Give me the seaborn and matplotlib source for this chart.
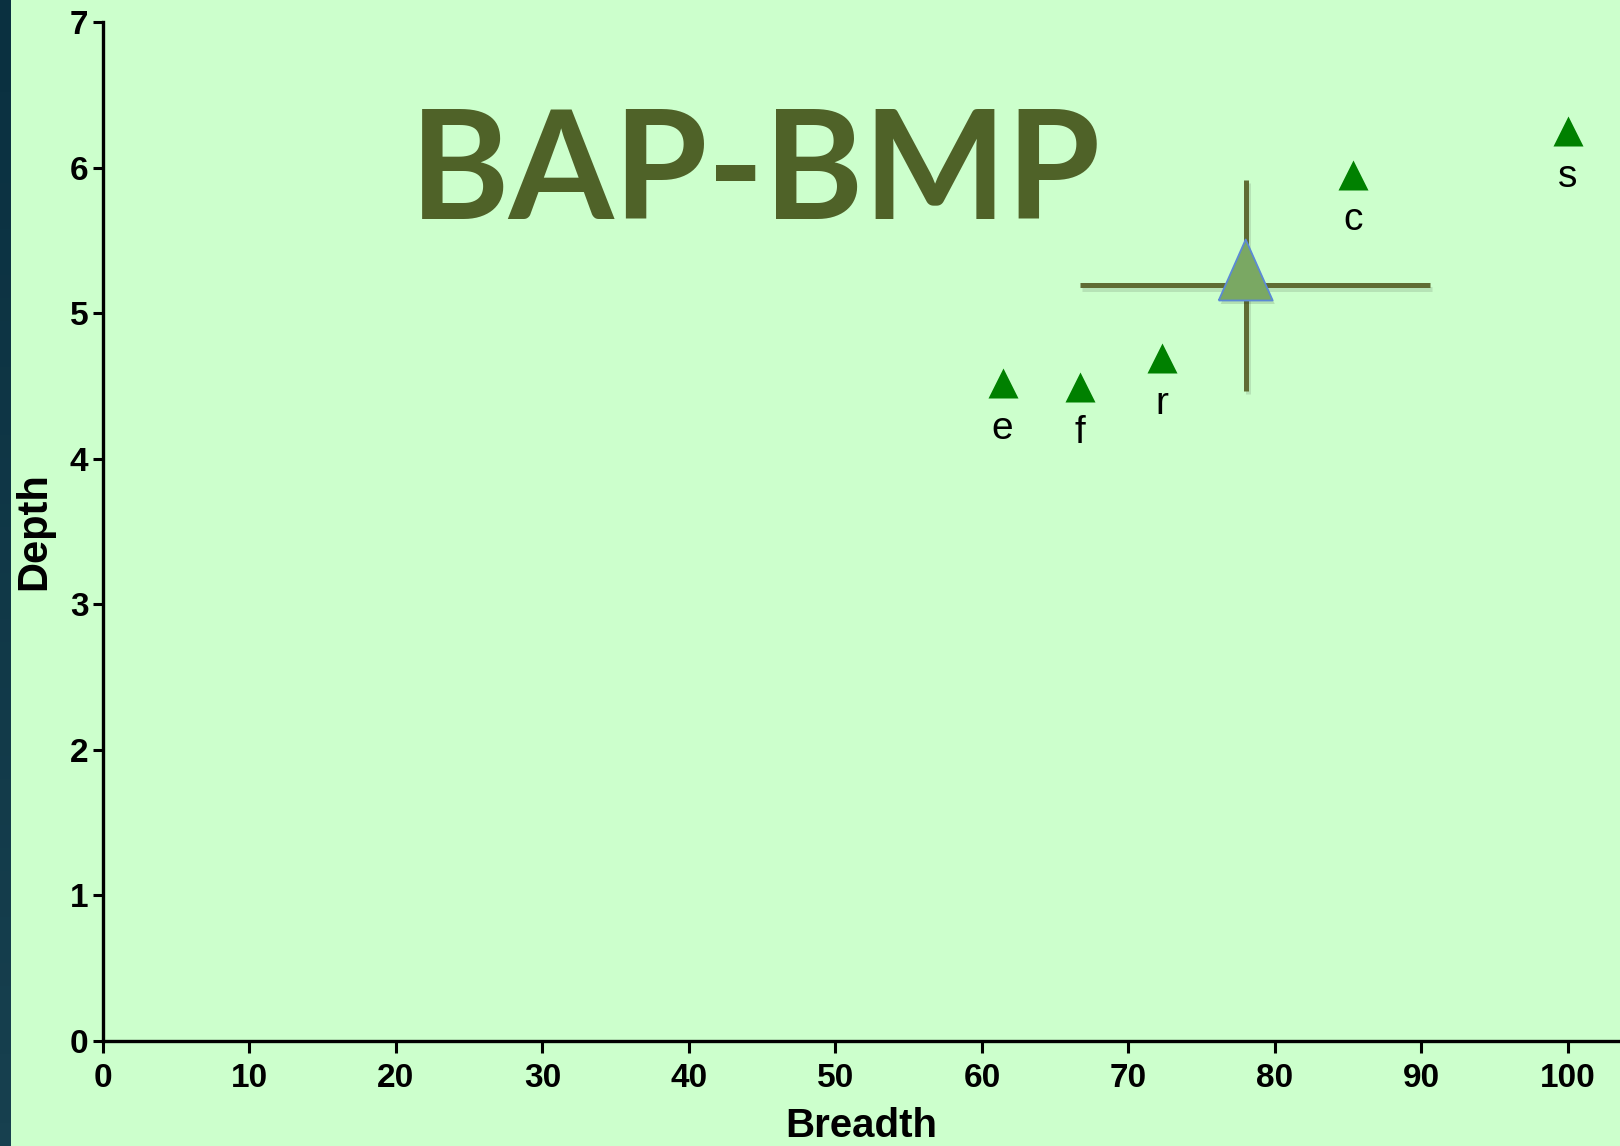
import matplotlib
matplotlib.use("Agg")
import numpy as np
import pandas as pd
import seaborn as sns
from matplotlib import pyplot as plt
from matplotlib import patheffects

# values
site_names = ["e", "f", "r", "c", "s"]
breadth = [61.4, 66.7, 72.3, 85.3, 100.0]
depth = [4.52, 4.49, 4.69, 5.95, 6.25]

mean_breadth = 78.0
mean_depth = 5.19
breadth_err = [[11.3], [12.6]]   # left, right arm
depth_err = 0.725

x_ticks = list(range(0, 101, 10))
y_ticks = list(range(0, 8))

bg = "#ccffcc"
sns.set_theme(style="ticks", rc={"axes.facecolor": bg, "figure.facecolor": bg,
                                 "text.color": "black", "axes.labelcolor": "black",
                                 "xtick.color": "black", "ytick.color": "black"})
plt.rcParams["font.family"] = ["Liberation Sans", "DejaVu Sans"]

fig = plt.figure(figsize=(16.2, 11.46), dpi=100)
ax = fig.add_axes([103 / 1620, 105 / 1146, 1517 / 1620, 1019 / 1146])

# dark strip on the left edge
strip = fig.add_axes([0, 0, 11 / 1620, 1])
strip.imshow(np.linspace(0, 1, 50).reshape(-1, 1), aspect="auto",
             cmap=matplotlib.colors.LinearSegmentedColormap.from_list("s", ["#0a3040", "#17404f"]))
strip.set_axis_off()

df = pd.DataFrame({"Breadth": breadth, "Depth": depth, "site": site_names})
sns.scatterplot(data=df, x="Breadth", y="Depth", marker="^", s=21.6 ** 2,
                color="#008000", linewidth=0, ax=ax, zorder=3)
for name, bx, dy in zip(site_names, breadth, depth):
    ax.annotate(name, (bx, dy), xytext=(0, -40), textcoords="offset points",
                ha="center", va="baseline", fontsize=28, color="black")

# mean with spread
shadow = [patheffects.SimpleLineShadow(offset=(1.5, -2.5), alpha=0.12), patheffects.Normal()]
eb = ax.errorbar([mean_breadth], [mean_depth], xerr=breadth_err, yerr=depth_err,
                 fmt="none", ecolor="#5f6c33", elinewidth=3.6, capsize=0, zorder=4)
for line in eb[2]:
    line.set_path_effects(shadow)

tri = [(-27, -15), (27, -15), (0, 46), (-27, -15)]
ax.plot([mean_breadth], [mean_depth], marker=tri, markersize=92 * 0.72,
        markerfacecolor="#7aa863", markeredgecolor="#5b8ad6", markeredgewidth=1.3,
        linestyle="none", zorder=5,
        path_effects=[patheffects.SimplePatchShadow(offset=(1.5, -2.5), alpha=0.15), patheffects.Normal()])

ax.text(0.4298, 0.8067, "BAP-BMP", transform=ax.transAxes, ha="center", va="baseline",
        fontsize=109, fontweight="bold", color="#4f6228", family=["Lato", "DejaVu Sans"])

ax.set_xlim(0, 103.55)
ax.set_ylim(0, 7)
ax.set_xticks(x_ticks)
ax.set_yticks(y_ticks)
sns.despine(ax=ax)
for side in ["left", "bottom"]:
    ax.spines[side].set_linewidth(2.4)
    ax.spines[side].set_color("black")
ax.tick_params(axis="x", length=8.5, width=2.2, pad=7, labelsize=24, color="black", labelcolor="black")
ax.tick_params(axis="y", length=7, width=2.2, pad=3.5, labelsize=24, color="black", labelcolor="black")
for lab in ax.get_xticklabels() + ax.get_yticklabels():
    lab.set_fontweight("bold")
ax.set_xlabel("Breadth", fontsize=29, fontweight="bold", labelpad=10, color="black")
ax.set_ylabel("Depth", fontsize=30, fontweight="bold", labelpad=11, color="black")

fig.savefig("out.png", dpi=100)
